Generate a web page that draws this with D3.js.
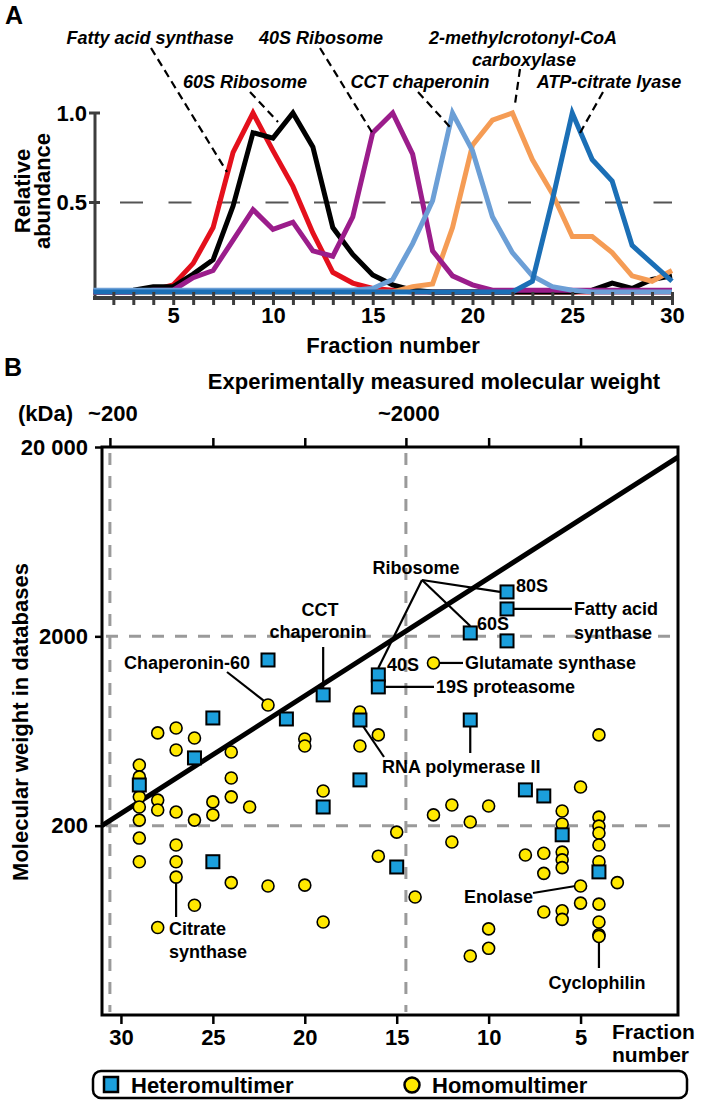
<!DOCTYPE html>
<html>
<head>
<meta charset="utf-8">
<script src="https://cdn.jsdelivr.net/npm/d3@7"></script>
<style>
  body { margin: 0; background: #fff; }
  svg { display: block; }
  text { font-family: "Liberation Sans", Arial, sans-serif; font-weight: bold; fill: #000; }
</style>
</head>
<body>
<svg id="fig" width="709" height="1101"></svg>
<script>
// ---- panel A : elution profiles (relative abundance per fraction) ----
const fractions = d3.range(1, 31);
const ribo60 = [0, 0, 0, 0.01, 0.04, 0.16, 0.36, 0.78, 1.0, 0.79, 0.59, 0.33, 0.11, 0.05, 0.02,
  0.01, 0, 0, 0, 0, 0, 0, 0, 0, 0, 0, 0, 0, 0, 0];
const fattyAcid = [0, 0, 0.01, 0.03, 0.03, 0.1, 0.18, 0.48, 0.89, 0.86, 1.0, 0.81, 0.36, 0.21, 0.095,
  0.04, 0.01, 0, 0, 0, 0, 0, 0, 0, 0, 0.01, 0.05, 0.02, 0.07, 0.09];
const ribo40 = [0, 0, 0, 0.01, 0.01, 0.08, 0.12, 0.29, 0.46, 0.35, 0.39, 0.23, 0.2, 0.42, 0.89,
  1.0, 0.77, 0.23, 0.09, 0.04, 0.01, 0.01, 0.01, 0.01, 0.01, 0.01, 0.01, 0.01, 0.01, 0.01];
const cct = [0.01, 0.01, 0.01, 0.01, 0.01, 0.01, 0.01, 0.01, 0.01, 0.01, 0.01, 0.01, 0.01, 0.01, 0.02,
  0.07, 0.27, 0.51, 1.0, 0.79, 0.42, 0.22, 0.09, 0.03, 0.01, 0, 0, 0, 0, 0];
const mcc = [0, 0, 0, 0, 0, 0, 0, 0, 0, 0, 0, 0, 0, 0, 0,
  0, 0.03, 0.045, 0.36, 0.82, 0.96, 1.0, 0.74, 0.55, 0.31, 0.31, 0.22, 0.09, 0.06, 0.12];
const acly = [0, 0, 0, 0, 0, 0, 0, 0, 0, 0, 0, 0, 0, 0, 0,
  0, 0, 0, 0, 0, 0, 0, 0.06, 0.51, 1.0, 0.74, 0.62, 0.26, 0.16, 0.06];
const yTicksA = [0.5, 1.0];

// ---- panel B : complexes ----
const heteroFraction = [29, 26, 25, 25, 22, 21, 19, 19, 17, 17, 16, 16, 15, 11, 11, 9, 9, 9, 8, 7, 6, 4];
const heteroKDa = [328, 456, 741, 129, 1500, 732, 981, 251, 723, 349, 1251, 1081, 121, 2084, 723,
  3432, 2790, 1892, 309, 287, 179, 114];
const homoFraction = [29, 29, 29, 29, 29, 29, 29, 28, 28, 28, 28, 27, 27, 27, 27, 27, 27, 26, 26, 26,
  25, 25, 24, 24, 24, 24, 23, 22, 22, 20, 20, 20, 19, 19, 17, 17, 16, 16, 15, 14, 13, 13, 12, 12,
  11, 11, 10, 10, 10, 8, 7, 7, 7, 6, 6, 6, 6, 6, 6, 6, 5, 5, 5, 4, 4, 4, 4, 4, 4, 4, 4, 4, 4, 3];
const homoKDa = [418, 362, 284, 251, 214, 172, 129, 618, 273, 242, 58, 656, 502, 236, 158, 129, 107,
  581, 214, 76, 267, 228, 490, 357, 284, 100, 251, 868, 96, 574, 527, 97, 305, 62, 797, 527, 603, 138,
  185, 84, 1447, 228, 257, 164, 209, 41, 254, 57, 45, 140, 143, 112, 70, 239, 204, 145, 132, 120, 71,
  64, 320, 96, 78, 603, 222, 199, 183, 158, 129, 77, 62, 53, 52, 100];
const kdaTicks = [200, 2000, 20000];
const fractionTicks = [30, 25, 20, 15, 10, 5];
const calFraction = [30.6, 14.5];          // fractions where ~200 and ~2000 kDa elute
const calLabels = ["~200", "~2000"];
const diagonal = [[31.03, 200], [-0.3, 17700]];

const svg = d3.select("#fig");
svg.append("rect").attr("width", 709).attr("height", 1101).attr("fill", "#fff");

// =================== PANEL A ===================
const xA = d3.scaleLinear().domain([1, 30]).range([93.4, 672]);
const yA = d3.scaleLinear().domain([0, 1]).range([292, 113]);
const gA = svg.append("g");
const axisGrey = "#3d3d3d";

gA.append("text").attr("x", 5).attr("y", 24).attr("font-size", 25).text("A");

// dashed half line
gA.append("line")
  .attr("x1", 120).attr("x2", xA(30))
  .attr("y1", yA(0.5)).attr("y2", yA(0.5))
  .attr("stroke", "#555").attr("stroke-width", 2).attr("stroke-dasharray", "23 25.5");

// axes
gA.append("line").attr("x1", 95).attr("x2", 95).attr("y1", yA(1)).attr("y2", 298)
  .attr("stroke", axisGrey).attr("stroke-width", 3);
gA.selectAll(".ytk").data(yTicksA).join("line")
  .attr("x1", 89).attr("x2", 100).attr("y1", d => yA(d)).attr("y2", d => yA(d))
  .attr("stroke", axisGrey).attr("stroke-width", 3);
gA.selectAll(".ylab").data(yTicksA).join("text")
  .attr("x", 87).attr("y", d => yA(d)).attr("dy", "0.36em")
  .attr("text-anchor", "end").attr("font-size", 22).text(d => d.toFixed(1));

const seriesA = [
  { values: ribo60, color: "#e4101c" },
  { values: fattyAcid, color: "#000000" },
  { values: mcc, color: "#f59c55" },
  { values: ribo40, color: "#9b1d8b" },
  { values: cct, color: "#6c9fd6" },
  { values: acly, color: "#1b6fb6" }
];
const lineA = d3.line().x((d, i) => xA(fractions[i])).y(d => yA(d));
gA.selectAll(".curve").data(seriesA).join("path")
  .attr("d", d => lineA(d.values))
  .attr("fill", "none").attr("stroke", d => d.color)
  .attr("stroke-width", 5).attr("stroke-linejoin", "miter");

gA.append("line").attr("x1", 93).attr("x2", 672).attr("y1", 298).attr("y2", 298)
  .attr("stroke", axisGrey).attr("stroke-width", 4);
const axA = gA.append("g").attr("transform", "translate(0,292)")
  .call(d3.axisBottom(xA).tickValues(d3.range(2, 31)).tickSize(13).tickFormat(""));
axA.select(".domain").remove();
axA.selectAll("line").attr("stroke", axisGrey).attr("stroke-width", 3);
const axA2 = gA.append("g").attr("transform", "translate(0,298)")
  .call(d3.axisBottom(xA).tickValues(d3.range(5, 31, 5)).tickSize(0).tickPadding(9));
axA2.select(".domain").remove();
axA2.selectAll("text").attr("font-size", 22).attr("font-family", null);

gA.append("text").attr("x", 393).attr("y", 345).attr("dy", "0.36em")
  .attr("text-anchor", "middle").attr("font-size", 22).text("Fraction number");
const yl = gA.append("text").attr("transform", "translate(0,191) rotate(-90)")
  .attr("text-anchor", "middle").attr("font-size", 22);
yl.append("tspan").attr("x", 0).attr("y", 30).text("Relative");
yl.append("tspan").attr("x", 0).attr("y", 50).text("abundance");

// labels with dashed leaders
const labA = [
  { t: "Fatty acid synthase", x: 150, y: 38, l: [151, 48, 227, 172] },
  { t: "40S Ribosome", x: 321, y: 38, l: [320, 48, 373, 134] },
  { t: "2-methylcrotonyl-CoA", x: 523, y: 38, l: null },
  { t: "carboxylase", x: 524, y: 60, l: [520, 69, 515, 104] },
  { t: "60S Ribosome", x: 245, y: 82, l: [250, 92, 278, 122] },
  { t: "CCT chaperonin", x: 420, y: 82, l: [418, 92, 450, 127] },
  { t: "ATP-citrate lyase", x: 609, y: 82, l: [603, 92, 580, 133] }
];
gA.selectAll(".lab").data(labA).join("text")
  .attr("x", d => d.x).attr("y", d => d.y).attr("dy", "0.36em")
  .attr("text-anchor", "middle").attr("font-size", 18).attr("font-style", "italic")
  .text(d => d.t);
gA.selectAll(".ldr").data(labA.filter(d => d.l)).join("line")
  .attr("x1", d => d.l[0]).attr("y1", d => d.l[1]).attr("x2", d => d.l[2]).attr("y2", d => d.l[3])
  .attr("stroke", "#000").attr("stroke-width", 2.2).attr("stroke-dasharray", "8 5");

// =================== PANEL B ===================
const xB = d3.scaleLinear().domain([31.03, -0.3]).range([102, 678]);
const yB = d3.scaleLog().domain([20, 20000]).range([1015, 447]);
const gB = svg.append("g");

gB.append("text").attr("x", 4).attr("y", 376).attr("font-size", 25).text("B");
gB.append("text").attr("x", 434).attr("y", 381).attr("dy", "0.36em")
  .attr("text-anchor", "middle").attr("font-size", 22).text("Experimentally measured molecular weight");
gB.append("text").attr("x", 18).attr("y", 413).attr("dy", "0.36em").attr("font-size", 22).text("(kDa)");
gB.selectAll(".cal").data(calFraction).join("text")
  .attr("x", d => xB(d) + 3).attr("y", 413).attr("dy", "0.36em")
  .attr("text-anchor", "middle").attr("font-size", 22).text((d, i) => calLabels[i]);

// grid
const grid = gB.append("g").attr("stroke", "#9a9a9a").attr("stroke-width", 3).attr("stroke-dasharray", "12 11");
grid.selectAll(".gv").data(calFraction).join("line")
  .attr("x1", d => xB(d)).attr("x2", d => xB(d)).attr("y1", 453).attr("y2", 1012);
grid.selectAll(".gh").data([200, 2000]).join("line")
  .attr("x1", 106).attr("x2", 676).attr("y1", d => yB(d)).attr("y2", d => yB(d));

// axes
const topAx = gB.append("g").attr("transform", "translate(0,447)")
  .call(d3.axisTop(xB).tickValues([calFraction[0], 25, 20, calFraction[1], 10, 5]).tickSize(9).tickFormat(""));
topAx.select(".domain").remove();
topAx.selectAll("line").attr("stroke", "#000").attr("stroke-width", 2.5);

const leftAx = gB.append("g").attr("transform", "translate(102,0)")
  .call(d3.axisLeft(yB).tickValues(kdaTicks).tickSize(7).tickPadding(7)
    .tickFormat(d => d === 20000 ? "20 000" : String(d)));
leftAx.select(".domain").remove();
leftAx.selectAll("line").attr("stroke", "#000").attr("stroke-width", 2.5);
leftAx.selectAll("text").attr("font-size", 22).attr("font-family", null);

const botAx = gB.append("g").attr("transform", "translate(0,1015)")
  .call(d3.axisBottom(xB).tickValues(fractionTicks).tickSize(9).tickPadding(5));
botAx.select(".domain").remove();
botAx.selectAll("line").attr("stroke", "#000").attr("stroke-width", 2.5);
botAx.selectAll("text").attr("font-size", 22).attr("font-family", null);

gB.append("rect").attr("x", 102).attr("y", 447).attr("width", 576).attr("height", 568)
  .attr("fill", "none").attr("stroke", "#000").attr("stroke-width", 3);

gB.append("text").attr("transform", "translate(20,722) rotate(-90)")
  .attr("text-anchor", "middle").attr("dy", "0.36em").attr("font-size", 22)
  .text("Molecular weight in databases");
gB.append("text").attr("x", 612).attr("y", 1031).attr("dy", "0.36em").attr("font-size", 21).text("Fraction");
gB.append("text").attr("x", 612).attr("y", 1054).attr("dy", "0.36em").attr("font-size", 21).text("number");

// identity line
gB.append("path")
  .attr("d", d3.line().x(d => xB(d[0])).y(d => yB(d[1]))(diagonal))
  .attr("stroke", "#000").attr("stroke-width", 5).attr("fill", "none");

// annotation leaders
const P = (f, k) => [xB(f), yB(k)];
const leaders = [
  [[422, 580], [P(9, 3432)[0] - 7, P(9, 3432)[1]]],
  [[422, 580], [P(11, 2084)[0], P(11, 2084)[1] - 7]],
  [[422, 580], [P(16, 1251)[0], P(16, 1251)[1] - 7]],
  [[P(9, 2790)[0] + 7, P(9, 2790)[1]], [572, P(9, 2790)[1]]],
  [[P(16, 1081)[0] + 7, P(16, 1081)[1]], [434, P(16, 1081)[1]]],
  [[P(13, 1447)[0] + 6, P(13, 1447)[1]], [463, P(13, 1447)[1]]],
  [[P(11, 723)[0], P(11, 723)[1] + 7], [P(11, 723)[0], 753]],
  [[P(17, 723)[0] + 3, P(17, 723)[1] + 6], [384, 757]],
  [[P(19, 981)[0], 647], [P(19, 981)[0], P(19, 981)[1] - 7]],
  [[227, 672], [P(22, 868)[0] - 4, P(22, 868)[1] - 4]],
  [P(27, 107), [P(27, 107)[0], 917]],
  [[533, 893], [P(5, 96)[0] - 5, P(5, 96)[1]]],
  [P(4, 52), [P(4, 52)[0], 968]]
];
gB.selectAll(".ld").data(leaders).join("line")
  .attr("x1", d => d[0][0]).attr("y1", d => d[0][1]).attr("x2", d => d[1][0]).attr("y2", d => d[1][1])
  .attr("stroke", "#000").attr("stroke-width", 2.2);

// points
const homo = homoFraction.map((f, i) => [f, homoKDa[i]]);
const hetero = heteroFraction.map((f, i) => [f, heteroKDa[i]]);
gB.selectAll(".homo").data(homo).join("circle")
  .attr("cx", d => xB(d[0])).attr("cy", d => yB(d[1])).attr("r", 6)
  .attr("fill", "#ffe800").attr("stroke", "#000").attr("stroke-width", 1.6);
gB.selectAll(".het").data(hetero).join("rect")
  .attr("x", d => xB(d[0]) - 6.5).attr("y", d => yB(d[1]) - 6.5)
  .attr("width", 13).attr("height", 13)
  .attr("fill", "#1b9fdc").attr("stroke", "#000").attr("stroke-width", 2);

// annotation text
const ann = [
  { t: "Ribosome", x: 416, y: 568, a: "middle" },
  { t: "80S", x: 516, y: 586, a: "start" },
  { t: "Fatty acid", x: 574, y: 609, a: "start" },
  { t: "synthase", x: 574, y: 633, a: "start" },
  { t: "60S", x: 477, y: 624, a: "start" },
  { t: "40S", x: 387, y: 665, a: "start" },
  { t: "19S proteasome", x: 436, y: 687, a: "start" },
  { t: "Glutamate synthase", x: 465, y: 663, a: "start" },
  { t: "RNA polymerase II", x: 382, y: 767, a: "start" },
  { t: "CCT", x: 320, y: 610, a: "middle" },
  { t: "chaperonin", x: 318, y: 632, a: "middle" },
  { t: "Chaperonin-60", x: 187, y: 663, a: "middle" },
  { t: "Citrate", x: 169, y: 929, a: "start" },
  { t: "synthase", x: 169, y: 952, a: "start" },
  { t: "Enolase", x: 533, y: 897, a: "end" },
  { t: "Cyclophilin", x: 597, y: 983, a: "middle" }
];
gB.selectAll(".ann").data(ann).join("text")
  .attr("x", d => d.x).attr("y", d => d.y).attr("dy", "0.36em")
  .attr("text-anchor", d => d.a).attr("font-size", 18).text(d => d.t);

// legend
const lg = svg.append("g");
lg.append("rect").attr("x", 93).attr("y", 1071).attr("width", 594).attr("height", 27).attr("rx", 8)
  .attr("fill", "#fff").attr("stroke", "#000").attr("stroke-width", 2.5);
lg.append("rect").attr("x", 104).attr("y", 1077).attr("width", 14).attr("height", 15)
  .attr("fill", "#1b9fdc").attr("stroke", "#000").attr("stroke-width", 2.5);
lg.append("text").attr("x", 131).attr("y", 1085).attr("dy", "0.36em").attr("font-size", 22).text("Heteromultimer");
lg.append("circle").attr("cx", 412).attr("cy", 1085).attr("r", 7.5)
  .attr("fill", "#ffe800").attr("stroke", "#000").attr("stroke-width", 2.5);
lg.append("text").attr("x", 432).attr("y", 1085).attr("dy", "0.36em").attr("font-size", 22).text("Homomultimer");
</script>
</body>
</html>
